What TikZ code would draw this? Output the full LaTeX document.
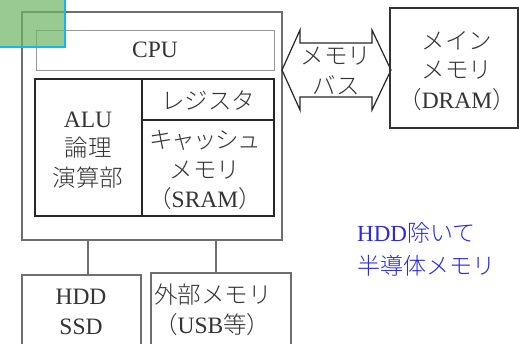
\documentclass[tikz,border=0pt]{standalone}
\usepackage{fontspec}
\setmainfont{Liberation Serif}
\newfontfamily\cjk{Noto Sans CJK JP Light}
\usetikzlibrary{positioning}
\definecolor{boxgray}{RGB}{110,110,110}
\definecolor{lightgray}{RGB}{150,150,150}
\definecolor{selgreen}{RGB}{110,180,100}
\definecolor{selcyan}{RGB}{20,185,235}
\definecolor{noteblue}{RGB}{40,40,235}
\tikzset{
  txt/.style={font=\fontsize{23.5}{29.5}\selectfont, align=center, inner sep=0pt, text=black!80},
  outerbox/.style={draw=boxgray, line width=2pt},
  thinbox/.style={draw=lightgray, line width=1pt},
  blackbox/.style={draw=black!85, line width=1.5pt},
  link/.style={draw=boxgray, line width=2pt},
}
\begin{document}
\begin{tikzpicture}[x=1pt,y=-1pt]
\useasboundingbox (0,0) rectangle (519,343);
% outer computer box
\draw[outerbox] (22,12) rectangle (282,240);
\node[thinbox, minimum width=238pt, minimum height=40pt, inner sep=0pt] (cpu) at (155,50) {};
\node[txt] at (cpu.center) {CPU};
% inner black box
\draw[blackbox] (35,79) rectangle (274,216);
\draw[blackbox] (142,79) -- (142,216);
\draw[blackbox] (142,120) -- (274,120);
\coordinate (alu) at (88,150);
\node[txt] (alut) at (alu) {ALU\\{\cjk 論理}\\{\cjk 演算部}};
\node[txt] (reg) at (208,100) {\cjk レジスタ};
\node[txt] (cache) at (205,170) {{\cjk\addfontfeature{LetterSpace=-6} キャッシュ}\\{\cjk メモリ}\\{\cjk （}SRAM{\cjk ）}};
% memory bus arrow
\coordinate (bl) at (282,70);
\coordinate (br) at (391,70);
\draw[line width=1.2pt, black!85, line join=miter]
  (bl) -- (300,30) -- (300,43) -- (372,43) -- (372,30) -- (br)
  -- (372,110) -- (372,97) -- (300,97) -- (300,110) -- cycle;
\node[txt] (bus) at (336,71) {\cjk メモリ\\{\cjk バス}};
% main memory
\node[draw=black!80, line width=1.5pt, minimum width=128pt, minimum height=120pt, inner sep=0pt] (dram) at (454,68) {};
\node[txt] at (457,71) {\cjk メイン\\{\cjk メモリ}\\{\cjk （}DRAM{\cjk ）}};
% lower boxes
\draw[outerbox] (22,350) -- (22,275) -- (141,275) -- (141,350);
\draw[outerbox] (151,350) -- (151,273) -- (291,273) -- (291,350);
\coordinate (hddtop) at (88,275);
\coordinate (usbtop) at (216,273);
\coordinate (hddup) at (88,240);
\coordinate (usbup) at (216,240);
\draw[link] (hddup) -- (hddtop);
\draw[link] (usbup) -- (usbtop);
\node[txt] (hdd) at (81,312) {HDD\\SSD};
\node[txt, align=left, anchor=west] (usb) at (154,310) {\cjk 外部メモリ\\{\cjk （}USB{\cjk 等）}};
% note
\node[txt, text=noteblue, font=\fontsize{23}{33}\selectfont, align=left, anchor=west] (note) at (357,249) {HDD{\cjk 除いて}\\{\cjk 半導体メモリ}};
% selection square
\fill[selgreen, opacity=0.7] (0,0) rectangle (65,47);
\draw[selcyan, line width=2pt] (0,47) -- (65,47) -- (65,0);
\end{tikzpicture}
\end{document}
